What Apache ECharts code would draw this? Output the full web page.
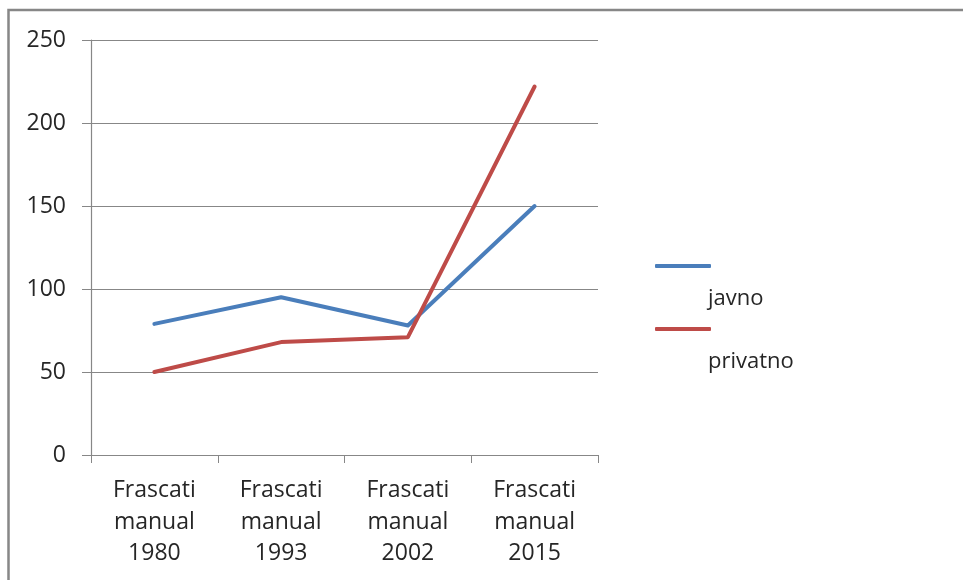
<!DOCTYPE html>
<html>
<head>
<meta charset="utf-8">
<script src="https://cdn.jsdelivr.net/npm/echarts@6/dist/echarts.min.js"></script>
<style>html,body{margin:0;padding:0;background:#fff}#c{width:963px;height:580px}</style>
</head>
<body>
<div id="c"></div>
<script>
const categories = ['Frascati\nmanual\n1980', 'Frascati\nmanual\n1993', 'Frascati\nmanual\n2002', 'Frascati\nmanual\n2015'];
const javno = [79, 95, 78, 150];
const privatno = [50, 68, 71, 222];
const yTicks = { min: 0, max: 250, interval: 50 };

const FONT = 'Open Sans';
const chart = echarts.init(document.getElementById('c'), null, { renderer: 'canvas' });
const legendText = {
  fontFamily: FONT, fontSize: 22, color: '#262626',
  rich: {
    s: { height: 66, fontSize: 22 },
    t: { fontFamily: FONT, fontSize: 22, color: '#262626', lineHeight: 24, padding: [0, 0, 0, -8] }
  }
};
const fmt = name => '{s|}\n{t|' + name + '}';
chart.setOption({
  animation: false,
  backgroundColor: '#fff',
  graphic: [{
    type: 'rect', silent: true,
    shape: { x: 8.5, y: 10, width: 1000, height: 700 },
    style: { fill: null, stroke: '#878787', lineWidth: 2.5 }
  }],
  grid: { left: 91, right: 365, top: 40, bottom: 125, containLabel: false },
  legend: [
    { data: ['javno'], left: 650, top: 238, icon: 'roundRect', itemWidth: 56, itemHeight: 4, itemGap: 0, textStyle: legendText, formatter: fmt, selectedMode: false },
    { data: ['privatno'], left: 650, top: 301, icon: 'roundRect', itemWidth: 56, itemHeight: 4, itemGap: 0, textStyle: legendText, formatter: fmt, selectedMode: false }
  ],
  xAxis: {
    type: 'category', data: categories, boundaryGap: true,
    axisLine: { lineStyle: { color: '#878787', width: 1.2 } },
    axisTick: { show: true, length: 8, lineStyle: { color: '#878787' }, alignWithLabel: false },
    axisLabel: { fontFamily: FONT, fontSize: 23, color: '#262626', lineHeight: 31.5, margin: 20, interval: 0 }
  },
  yAxis: {
    type: 'value', min: yTicks.min, max: yTicks.max, interval: yTicks.interval,
    axisLine: { show: true, lineStyle: { color: '#878787', width: 1.2 } },
    axisTick: { show: true, length: 9, lineStyle: { color: '#878787' } },
    splitLine: { lineStyle: { color: '#878787', width: 1.2 } },
    axisLabel: { fontFamily: FONT, fontSize: 23, color: '#262626', margin: 25 }
  },
  series: [
    { name: 'javno', type: 'line', data: javno, symbol: 'none', color: '#4A7EBB',
      lineStyle: { width: 4, color: '#4A7EBB', cap: 'round', join: 'round' } },
    { name: 'privatno', type: 'line', data: privatno, symbol: 'none', color: '#BE4B48',
      lineStyle: { width: 4, color: '#BE4B48', cap: 'round', join: 'round' } }
  ]
});
</script>
</body>
</html>
